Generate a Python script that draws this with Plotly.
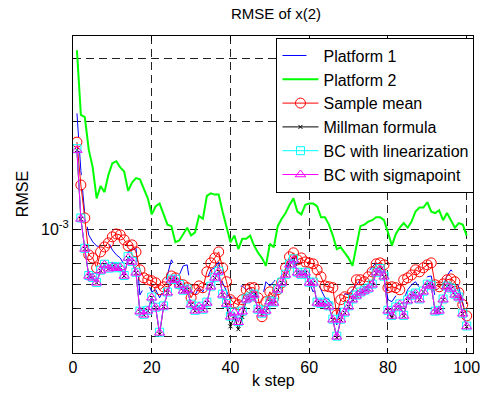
import plotly.graph_objects as go

# time steps
k_step = list(range(1, 101))

# RMSE values (units of 1e-3)
platform1_e3 = [2.11, 1.46, 1.10, 0.964, 0.922, 0.898, 0.892, 0.904, 0.922, 0.875,
                0.848, 0.831, 0.795, 0.864, 0.875, 0.886, 0.655, 0.686, 0.708, 0.668,
                0.677, 0.643, 0.677, 0.745, 0.821, 0.780, 0.745, 0.790, 0.795, 0.668,
                0.655, 0.686, 0.668, 0.722, 0.770, 0.780, 0.810, 0.708, 0.668, 0.635,
                0.668, 0.690, 0.694, 0.677, 0.686, 0.668, 0.635, 0.635, 0.713, 0.694,
                0.713, 0.736, 0.745, 0.770, 0.810, 0.831, 0.780, 0.795, 0.770, 0.708,
                0.668, 0.713, 0.677, 0.643, 0.635, 0.615, 0.540, 0.615, 0.660, 0.655,
                0.677, 0.699, 0.722, 0.731, 0.760, 0.785, 0.805, 0.795, 0.760, 0.635,
                0.627, 0.651, 0.655, 0.635, 0.677, 0.699, 0.713, 0.686, 0.713, 0.736,
                0.740, 0.643, 0.651, 0.699, 0.740, 0.770, 0.745, 0.686, 0.622, 0.565]

platform2_e3 = [3.17, 2.09, 2.06, 1.67, 1.49, 1.22, 1.32, 1.27, 1.42, 1.53,
                1.55, 1.49, 1.45, 1.28, 1.35, 1.39, 1.38, 1.30, 1.22, 1.10,
                1.16, 1.18, 1.10, 1.03, 1.02, 0.92, 0.93, 0.97, 1.01, 0.96,
                0.98, 1.09, 1.07, 1.24, 1.26, 1.25, 1.25, 1.12, 1.02, 0.92,
                0.96, 0.88, 0.94, 0.94, 0.96, 0.90, 0.86, 0.83, 0.79, 0.91,
                0.89, 1.02, 1.07, 1.11, 1.17, 1.22, 1.12, 1.10, 1.17, 1.18,
                1.18, 1.16, 1.08, 1.08, 1.03, 0.96, 0.88, 0.89, 0.86, 0.83,
                0.79, 0.90, 1.02, 1.03, 1.05, 1.06, 1.08, 1.08, 1.06, 0.98,
                0.90, 0.97, 1.01, 1.04, 1.01, 1.05, 1.12, 1.15, 1.15, 1.19,
                1.12, 1.11, 1.13, 1.06, 1.11, 1.06, 1.01, 1.04, 1.03, 0.96]

sample_mean_e3 = [1.753, 1.330, 1.075, 0.848, 0.831, 0.780, 0.864, 0.892, 0.916, 0.952,
                  0.970, 0.964, 0.934, 0.898, 0.904, 0.864, 0.770, 0.731, 0.722, 0.717,
                  0.708, 0.677, 0.690, 0.713, 0.740, 0.731, 0.703, 0.699, 0.686, 0.643,
                  0.677, 0.694, 0.686, 0.760, 0.805, 0.831, 0.864, 0.780, 0.713, 0.635,
                  0.622, 0.615, 0.635, 0.677, 0.686, 0.686, 0.643, 0.569, 0.627, 0.668,
                  0.643, 0.677, 0.708, 0.780, 0.837, 0.859, 0.821, 0.831, 0.810, 0.805,
                  0.800, 0.770, 0.736, 0.694, 0.690, 0.686, 0.576, 0.635, 0.647, 0.643,
                  0.668, 0.722, 0.722, 0.713, 0.736, 0.760, 0.800, 0.805, 0.795, 0.686,
                  0.690, 0.686, 0.677, 0.722, 0.731, 0.745, 0.770, 0.760, 0.780, 0.795,
                  0.805, 0.699, 0.690, 0.703, 0.722, 0.726, 0.713, 0.664, 0.615, 0.572]

millman_e3 = [1.665, 1.069, 0.881, 0.740, 0.731, 0.708, 0.765, 0.795, 0.775, 0.785,
              0.778, 0.782, 0.740, 0.831, 0.810, 0.755, 0.588, 0.576, 0.591, 0.643,
              0.603, 0.508, 0.607, 0.664, 0.722, 0.722, 0.699, 0.672, 0.677, 0.615,
              0.591, 0.607, 0.595, 0.622, 0.690, 0.731, 0.760, 0.655, 0.612, 0.535,
              0.572, 0.525, 0.568, 0.635, 0.643, 0.655, 0.595, 0.580, 0.591, 0.627,
              0.622, 0.677, 0.708, 0.745, 0.795, 0.821, 0.755, 0.745, 0.755, 0.708,
              0.708, 0.622, 0.618, 0.622, 0.607, 0.558, 0.497, 0.558, 0.584, 0.607,
              0.635, 0.651, 0.664, 0.672, 0.681, 0.699, 0.755, 0.770, 0.736, 0.591,
              0.566, 0.603, 0.615, 0.572, 0.631, 0.651, 0.660, 0.635, 0.668, 0.699,
              0.694, 0.588, 0.591, 0.635, 0.690, 0.681, 0.655, 0.643, 0.580, 0.534]

bc_lin_e3 = [1.680, 1.075, 0.884, 0.742, 0.733, 0.710, 0.768, 0.798, 0.778, 0.787,
             0.780, 0.785, 0.742, 0.838, 0.813, 0.758, 0.590, 0.578, 0.593, 0.646,
             0.605, 0.515, 0.610, 0.667, 0.725, 0.724, 0.701, 0.675, 0.680, 0.617,
             0.593, 0.609, 0.597, 0.625, 0.693, 0.734, 0.763, 0.658, 0.620, 0.571,
             0.586, 0.551, 0.590, 0.638, 0.646, 0.658, 0.597, 0.582, 0.593, 0.630,
             0.625, 0.680, 0.711, 0.748, 0.799, 0.826, 0.758, 0.748, 0.758, 0.711,
             0.711, 0.625, 0.620, 0.625, 0.610, 0.560, 0.502, 0.560, 0.586, 0.610,
             0.638, 0.654, 0.667, 0.675, 0.684, 0.702, 0.758, 0.776, 0.739, 0.593,
             0.574, 0.606, 0.618, 0.574, 0.634, 0.654, 0.663, 0.638, 0.671, 0.702,
             0.697, 0.590, 0.593, 0.638, 0.693, 0.684, 0.658, 0.646, 0.582, 0.536]

bc_sigma_e3 = [1.665, 1.069, 0.881, 0.740, 0.731, 0.708, 0.765, 0.795, 0.775, 0.785,
               0.778, 0.782, 0.740, 0.831, 0.810, 0.755, 0.588, 0.576, 0.591, 0.643,
               0.603, 0.513, 0.607, 0.664, 0.722, 0.722, 0.699, 0.672, 0.677, 0.615,
               0.591, 0.607, 0.595, 0.622, 0.690, 0.731, 0.760, 0.655, 0.618, 0.569,
               0.584, 0.549, 0.588, 0.635, 0.643, 0.655, 0.595, 0.580, 0.591, 0.627,
               0.622, 0.677, 0.708, 0.745, 0.795, 0.821, 0.755, 0.745, 0.755, 0.708,
               0.708, 0.622, 0.618, 0.622, 0.607, 0.558, 0.500, 0.558, 0.584, 0.607,
               0.635, 0.651, 0.664, 0.672, 0.681, 0.699, 0.755, 0.770, 0.736, 0.591,
               0.572, 0.603, 0.615, 0.572, 0.631, 0.651, 0.660, 0.635, 0.668, 0.699,
               0.694, 0.588, 0.591, 0.635, 0.690, 0.681, 0.655, 0.643, 0.580, 0.534]

x_tick_vals = [0, 20, 40, 60, 80, 100]
y_major_vals = [1e-3]
y_major_text = ["10<sup>-3</sup>"]
y_minor_vals = [5e-4, 6e-4, 7e-4, 8e-4, 9e-4, 2e-3, 3e-3]


def scale(vals):
    return [v * 1e-3 for v in vals]


FONT = "Arial, Liberation Sans, sans-serif"
GRID = "#222222"
GDASH = "8px,5px"

fig = go.Figure()
fig.add_trace(go.Scatter(x=k_step, y=scale(platform1_e3), name="Platform 1", mode="lines",
                         line=dict(color="#0000ff", width=1, dash="24px,14px")))
fig.add_trace(go.Scatter(x=k_step, y=scale(platform2_e3), name="Platform 2", mode="lines",
                         line=dict(color="#00ff00", width=2)))
fig.add_trace(go.Scatter(x=k_step, y=scale(sample_mean_e3), name="Sample mean", mode="lines+markers",
                         line=dict(color="#ff0000", width=1),
                         marker=dict(symbol="circle-open", size=10, color="#ff0000", line=dict(width=1))))
fig.add_trace(go.Scatter(x=k_step, y=scale(millman_e3), name="Millman formula", mode="lines+markers",
                         line=dict(color="#000000", width=1),
                         marker=dict(symbol="x-thin", size=4, color="#000000", line=dict(width=1, color="#000000"))))
fig.add_trace(go.Scatter(x=k_step, y=scale(bc_lin_e3), name="BC with linearization", mode="lines+markers",
                         line=dict(color="#00ffff", width=1),
                         marker=dict(symbol="square-open", size=8, color="#00ffff", line=dict(width=1))))
fig.add_trace(go.Scatter(x=k_step, y=scale(bc_sigma_e3), name="BC with sigmapoint", mode="lines+markers",
                         line=dict(color="#ff00ff", width=1),
                         marker=dict(symbol="triangle-up-open", size=9, color="#ff00ff", line=dict(width=1))))

W, H = 492, 397
L, R, T, B = 72.7, 479.3, 35.7, 353.3
pw, ph = R - L, B - T

fig.update_layout(
    width=W, height=H,
    margin=dict(l=L, r=W - R, t=T, b=H - B, pad=0),
    paper_bgcolor="white", plot_bgcolor="white",
    font=dict(family=FONT, size=16, color="black"),
    showlegend=True,
    legend=dict(x=1 + 1.5 / pw, y=1 - 1.6 / ph, xanchor="right", yanchor="top",
                bgcolor="white", bordercolor="black", borderwidth=1,
                font=dict(family=FONT, size=16, color="black"), itemwidth=36,
                tracegroupgap=0),
    title=dict(text="RMSE of x(2)", x=(L + R) / 2 / W, xanchor="center",
               y=1 - 14 / H, yanchor="middle", font=dict(family=FONT, size=15, color="black")),
    xaxis=dict(range=[0, 101.6], tickvals=x_tick_vals, ticktext=[str(v) for v in x_tick_vals],
               showgrid=True, gridcolor=GRID, griddash=GDASH, gridwidth=1,
               showline=True, linecolor="black", linewidth=1, mirror="ticks",
               ticks="inside", ticklen=5, tickcolor="black", zeroline=False,
               tickfont=dict(family=FONT, size=16, color="black")),
    yaxis=dict(type="log", range=[-3.3464, -2.4592], tickvals=y_major_vals, ticktext=y_major_text,
               showgrid=True, gridcolor=GRID, griddash=GDASH, gridwidth=1,
               showline=True, linecolor="black", linewidth=1, mirror="ticks",
               ticks="inside", ticklen=5, tickcolor="black", zeroline=False,
               tickfont=dict(family=FONT, size=16, color="black"),
               minor=dict(tickmode="array", tickvals=y_minor_vals, ticks="inside", ticklen=3,
                          tickcolor="black", showgrid=True, gridcolor=GRID, griddash=GDASH,
                          gridwidth=1)),
    annotations=[
        dict(text="k step", xref="paper", yref="paper", x=0.5, y=-(381 - B) / ph,
             xanchor="center", yanchor="middle", showarrow=False,
             font=dict(family=FONT, size=16, color="black")),
        dict(text="RMSE", xref="paper", yref="paper", x=-(L - 21) / pw, y=1 - (194 - T) / ph,
             xanchor="center", yanchor="middle", showarrow=False, textangle=-90,
             font=dict(family=FONT, size=16, color="black")),
    ],
)

fig.write_html("out.html")
